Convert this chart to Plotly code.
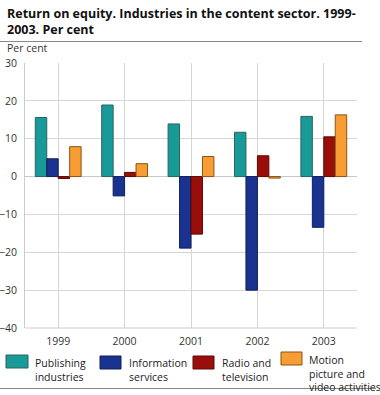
import plotly.graph_objects as go

years = ["1999", "2000", "2001", "2002", "2003"]
publishing = [15.6, 18.9, 13.9, 11.7, 15.9]
information = [4.7, -5.1, -18.9, -30.0, -13.4]
radio_tv = [-0.5, 1.1, -15.2, 5.5, 10.5]
motion = [7.9, 3.4, 5.3, -0.4, 16.3]
series_names = ["Publishing<br>industries", "Information<br>services",
                "Radio and<br>television", "Motion<br>picture and<br>video activities"]
y_ticks = [30, 20, 10, 0, -10, -20, -30, -40]

colors = ["#179a98", "#1a3390", "#9a0e0a", "#f89c34"]
borders = ["#2f6262", "#0f1f5a", "#5a0806", "#8a5418"]

W, H = 380, 395
L, R, T, B = 25, 23, 63, 67
PW, PH = W - L - R, H - T - B

def px_x(p):
    return (p - L) / PW

def px_y(p):
    return (H - B - p) / PH

FONT = "Open Sans"
fig = go.Figure()
for vals, c, bc, nm in zip([publishing, information, radio_tv, motion], colors, borders, series_names):
    fig.add_trace(go.Bar(x=years, y=vals, name=nm, marker=dict(color=c, line=dict(color=bc, width=1)),
                         showlegend=False))

fig.update_layout(
    width=W, height=H,
    margin=dict(l=L, r=R, t=T, b=B, autoexpand=False),
    paper_bgcolor="white", plot_bgcolor="white",
    barmode="group", bargap=0.31, bargroupgap=0,
    font=dict(family=FONT, size=10.5, color="#333333"),
    xaxis=dict(showgrid=True, gridcolor="#d6d6d6", gridwidth=1, showline=False, automargin=False,
               ticks="", ticklabelstandoff=5, tickfont=dict(size=10.5, color="#333333"), range=[-0.5, 4.5]),
    yaxis=dict(range=[-40, 30], tickvals=y_ticks, showgrid=True, gridcolor="#d6d6d6", gridwidth=1,
               zeroline=True, zerolinecolor="#c8c8c8", zerolinewidth=1, automargin=False,
               showline=True, linecolor="#cccccc", ticks="", ticklabelstandoff=5,
               tickfont=dict(size=10.5, color="#333333")),
)

shapes = []
annotations = []
# title
annotations.append(dict(text="<b>Return on equity. Industries in the content sector. 1999-<br>2003. Per cent</b>",
                        xref="paper", yref="paper", x=px_x(5), y=px_y(3),
                        xanchor="left", yanchor="top", align="left", showarrow=False,
                        font=dict(family=FONT, size=12.5, color="#111111")))
# bottom axis line
shapes.append(dict(type="line", xref="paper", yref="paper", x0=0, x1=1, y0=0, y1=0,
                   line=dict(color="#cccccc", width=1)))
# separator lines
shapes.append(dict(type="line", xref="paper", yref="paper", x0=px_x(0), x1=px_x(362),
                   y0=px_y(41.5), y1=px_y(41.5), line=dict(color="#888888", width=1)))
shapes.append(dict(type="line", xref="paper", yref="paper", x0=px_x(0), x1=px_x(376),
                   y0=px_y(388.5), y1=px_y(388.5), line=dict(color="#888888", width=1)))

annotations.append(dict(text="Per cent", xref="paper", yref="paper", x=px_x(5), y=px_y(48.5),
                        xanchor="left", yanchor="middle", showarrow=False,
                        font=dict(family=FONT, size=10.5, color="#333333")))

# custom legend
boxes = [(6, 28, 355, 368), (100, 121, 356, 369), (193, 214, 356, 369), (281, 302, 352, 365)]
text_x = [33, 127, 220, 307]
text_top = [354, 354, 354, 351]
for (x0, x1, y0, y1), tx, tt, c, bc, nm in zip(boxes, text_x, text_top, colors, borders, series_names):
    shapes.append(dict(type="rect", xref="paper", yref="paper", x0=px_x(x0), x1=px_x(x1),
                       y0=px_y(y1), y1=px_y(y0), fillcolor=c, line=dict(color=bc, width=1)))
    annotations.append(dict(text=nm, xref="paper", yref="paper", x=px_x(tx), y=px_y(tt),
                            xanchor="left", yanchor="top", align="left", showarrow=False,
                            font=dict(family=FONT, size=10.5, color="#222222")))

fig.update_layout(shapes=shapes, annotations=annotations)
fig.write_html("out.html", config={"displayModeBar": False},
               post_script="document.body.style.margin='0';document.body.style.overflow='hidden';")
